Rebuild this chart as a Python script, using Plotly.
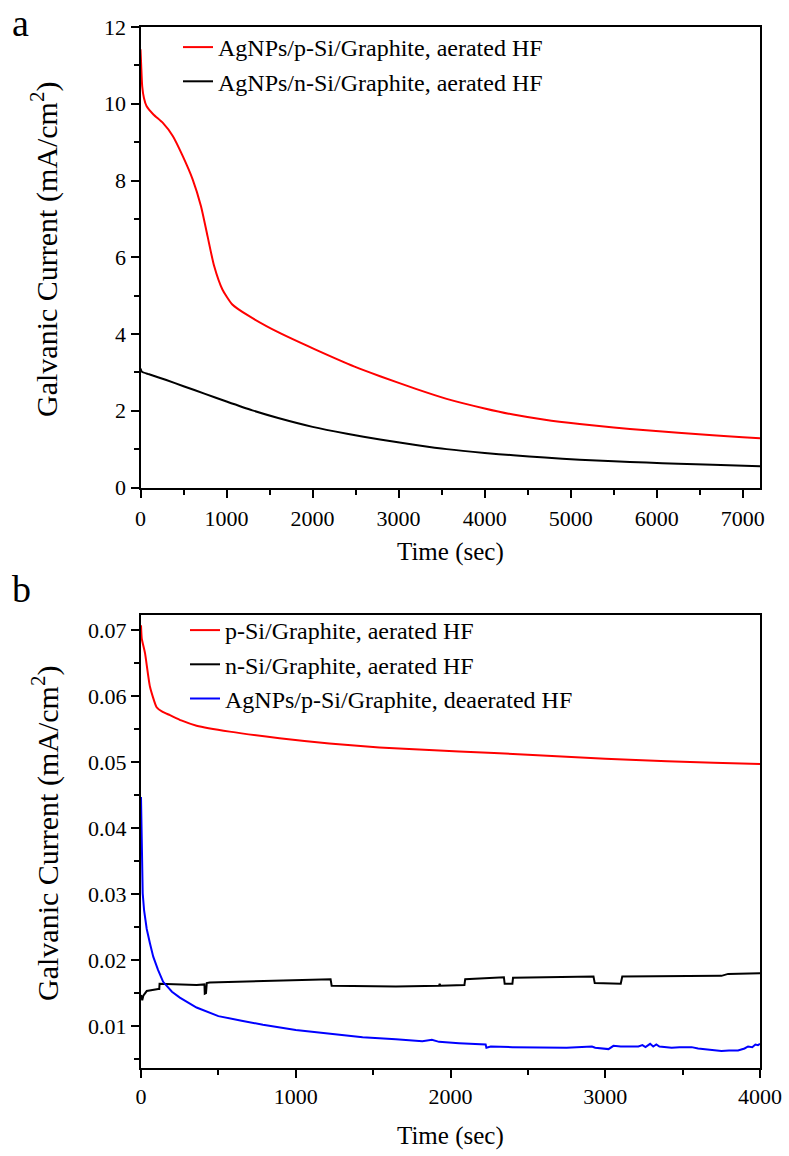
import plotly.graph_objects as go

W, H = 789, 1156

# ---------------- Panel a data ----------------
a_p_t = [0, 8, 20, 40, 70, 150, 260, 375, 490, 606, 703, 779, 856, 952, 1067, 1259,
         1605, 2028, 2488, 2784, 3200, 3558, 4000, 4331, 4700, 5104, 5500, 5878, 6250,
         6651, 7000, 7200]
a_p_v = [11.42, 11.0, 10.45, 10.15, 9.94, 9.72, 9.5, 9.16, 8.64, 8.03, 7.33, 6.55, 5.77,
         5.16, 4.77, 4.47, 4.04, 3.6, 3.15, 2.9, 2.57, 2.31, 2.06, 1.9, 1.765, 1.655, 1.565,
         1.49, 1.425, 1.36, 1.31, 1.283]

a_n_t = [0, 15, 100, 300, 500, 750, 1000, 1300, 1600, 2000, 2400, 2784, 3200, 3558, 4000,
         4331, 4700, 5104, 5500, 5878, 6250, 6651, 7200]
a_n_v = [3.1, 3.02, 2.95, 2.8, 2.64, 2.44, 2.24, 2.01, 1.81, 1.58, 1.4, 1.25, 1.11, 1.0,
         0.9, 0.84, 0.78, 0.725, 0.685, 0.65, 0.62, 0.59, 0.555]

# ---------------- Panel b data ----------------
b_p_t = [0, 5, 26, 58, 101, 140, 187, 260, 359, 573, 895, 1217, 1540, 1862, 2055, 2500,
         3000, 3400, 3700, 4000]
b_p_v = [0.0707, 0.0687, 0.0665, 0.0614, 0.0583, 0.0576, 0.0571, 0.0563, 0.0555, 0.0546,
         0.0536, 0.0528, 0.0522, 0.0518, 0.0516, 0.0511, 0.0505, 0.0501, 0.0499, 0.0497]

b_n_t = [0, 8, 15, 37, 111, 118, 120, 359, 410, 412, 420, 425, 444, 788, 1000, 1225,
         1232, 1647, 1926, 1930, 1935, 2090, 2095, 2334, 2345, 2350, 2400, 2404, 2924,
         2932, 3100, 3110, 3500, 3751, 3794, 4000]
b_n_v = [0.0147, 0.0139, 0.0146, 0.0153, 0.0156, 0.0156, 0.0164, 0.0162, 0.0163, 0.0149,
         0.0150, 0.0165, 0.0166, 0.0168, 0.0169, 0.0171, 0.0161, 0.0160, 0.0161, 0.0164,
         0.0161, 0.0162, 0.0171, 0.0174, 0.0174, 0.0164, 0.0164, 0.0173, 0.0175, 0.0165,
         0.0164, 0.0175, 0.0176, 0.0176, 0.0179, 0.0180]

b_ag_t = [0, 3, 11, 20, 37, 58, 79, 110, 143, 200, 251, 359, 500, 650, 788, 1000, 1217,
          1432, 1647, 1818, 1880, 1926, 2055, 2227, 2232, 2260, 2400, 2570, 2750, 2914,
          2935, 3021, 3053, 3100, 3214, 3240, 3260, 3290, 3310, 3330, 3350, 3429, 3480,
          3558, 3600, 3751, 3800, 3858, 3900, 3923, 3950, 3970, 3987, 4000]
b_ag_v = [0.0447, 0.038, 0.0301, 0.0275, 0.0247, 0.0225, 0.0205, 0.0185, 0.0167, 0.0152,
          0.0143, 0.0128, 0.0115, 0.0108, 0.0102, 0.0094, 0.0089, 0.0083, 0.0080, 0.0077,
          0.0079, 0.0076, 0.0074, 0.0072, 0.0067, 0.0069, 0.0068, 0.0067, 0.0067, 0.0069,
          0.0067, 0.0065, 0.0070, 0.0069, 0.0069, 0.0071, 0.0068, 0.0073, 0.0069, 0.0072,
          0.0069, 0.0067, 0.0068, 0.0068, 0.0066, 0.0062, 0.0063, 0.0063, 0.0066, 0.0069,
          0.0068, 0.0072, 0.0071, 0.0073]

names_a = ["AgNPs/p-Si/Graphite, aerated HF", "AgNPs/n-Si/Graphite, aerated HF"]
names_b = ["p-Si/Graphite, aerated HF", "n-Si/Graphite, aerated HF",
           "AgNPs/p-Si/Graphite, deaerated HF"]

RED, BLACK, BLUE = "#ff0000", "#000000", "#0000ff"
FONT = "Liberation Serif"

fig = go.Figure()
fig.add_trace(go.Scatter(x=a_p_t, y=a_p_v, mode="lines", name=names_a[0],
                         line=dict(color=RED, width=2, shape="spline", smoothing=0.6),
                         xaxis="x", yaxis="y", legend="legend"))
fig.add_trace(go.Scatter(x=a_n_t, y=a_n_v, mode="lines", name=names_a[1],
                         line=dict(color=BLACK, width=2, shape="spline", smoothing=0.6),
                         xaxis="x", yaxis="y", legend="legend"))
fig.add_trace(go.Scatter(x=b_p_t, y=b_p_v, mode="lines", name=names_b[0],
                         line=dict(color=RED, width=2, shape="spline", smoothing=0.5),
                         xaxis="x2", yaxis="y2", legend="legend2"))
fig.add_trace(go.Scatter(x=b_n_t, y=b_n_v, mode="lines", name=names_b[1],
                         line=dict(color=BLACK, width=2),
                         xaxis="x2", yaxis="y2", legend="legend2"))
fig.add_trace(go.Scatter(x=b_ag_t, y=b_ag_v, mode="lines", name=names_b[2],
                         line=dict(color=BLUE, width=2),
                         xaxis="x2", yaxis="y2", legend="legend2"))

# page-pixel -> paper fraction
def px_x(p):
    return p / W

def px_y(p):
    return 1 - p / H

common = dict(showgrid=False, zeroline=False, showline=True, linecolor="black",
              linewidth=2, mirror=True, ticks="outside", ticklen=8, tickwidth=2,
              tickcolor="black", automargin=False,
              tickfont=dict(family=FONT, size=22, color="black"))
minor_common = dict(ticks="outside", ticklen=5, tickwidth=2, tickcolor="black")

xa_dom = [px_x(140.5), px_x(760)]
ya_dom = [px_y(487.5), px_y(27)]
xb_dom = [px_x(141), px_x(760)]
yb_dom = [px_y(1068), px_y(615)]

fig.update_layout(
    width=W, height=H,
    margin=dict(l=0, r=0, t=0, b=0, pad=0, autoexpand=False),
    paper_bgcolor="white", plot_bgcolor="white",
    font=dict(family=FONT, color="black"),
    hovermode=False,
    xaxis=dict(domain=xa_dom, range=[0, 7200], anchor="y", dtick=1000, tick0=0,
               ticklabelstandoff=2,
               minor=dict(dtick=500, **minor_common), **common),
    yaxis=dict(domain=ya_dom, range=[0, 12], anchor="x", dtick=2, tick0=0,
               minor=dict(dtick=1, **minor_common), **common),
    xaxis2=dict(domain=xb_dom, range=[0, 4000], anchor="y2", dtick=1000, tick0=0,
                minor=dict(dtick=500, **minor_common), **common),
    yaxis2=dict(domain=yb_dom, range=[0.00364, 0.07227], anchor="x2", dtick=0.01, tick0=0,
                tickformat=".2f", minor=dict(dtick=0.005, **minor_common), **common),
    legend=dict(x=px_x(178), y=px_y(25), xanchor="left", yanchor="top",
                bgcolor="rgba(0,0,0,0)", borderwidth=0,
                font=dict(family=FONT, size=24, color="black")),
    legend2=dict(x=px_x(185), y=px_y(608), xanchor="left", yanchor="top",
                 bgcolor="rgba(0,0,0,0)", borderwidth=0,
                 font=dict(family=FONT, size=24, color="black")),
    showlegend=True,
)

ann = []
ytitle = "Galvanic Current (mA/cm<sup>2</sup>)"
ann.append(dict(text=ytitle, x=px_x(45), y=px_y(250), xref="paper",
                yref="paper", textangle=-90, showarrow=False, xanchor="center",
                yanchor="middle", font=dict(family=FONT, size=30, color="black")))
ann.append(dict(text=ytitle, x=px_x(45), y=px_y(834), xref="paper",
                yref="paper", textangle=-90, showarrow=False, xanchor="center",
                yanchor="middle", font=dict(family=FONT, size=30, color="black")))
ann.append(dict(text="Time (sec)", x=(xa_dom[0] + xa_dom[1]) / 2, y=px_y(552), xref="paper",
                yref="paper", showarrow=False, xanchor="center", yanchor="middle",
                font=dict(family=FONT, size=25, color="black")))
ann.append(dict(text="Time (sec)", x=(xb_dom[0] + xb_dom[1]) / 2, y=px_y(1136), xref="paper",
                yref="paper", showarrow=False, xanchor="center", yanchor="middle",
                font=dict(family=FONT, size=25, color="black")))
ann.append(dict(text="a", x=px_x(10), y=px_y(0), xref="paper", yref="paper",
                showarrow=False, xanchor="left", yanchor="top",
                font=dict(family=FONT, size=38, color="black")))
ann.append(dict(text="b", x=px_x(10), y=px_y(566), xref="paper", yref="paper",
                showarrow=False, xanchor="left", yanchor="top",
                font=dict(family=FONT, size=38, color="black")))
fig.update_layout(annotations=ann)

fig.write_html("out.html",
               config={"displayModeBar": False},
               post_script="document.body.style.margin='0px';document.body.style.overflow='hidden';")
